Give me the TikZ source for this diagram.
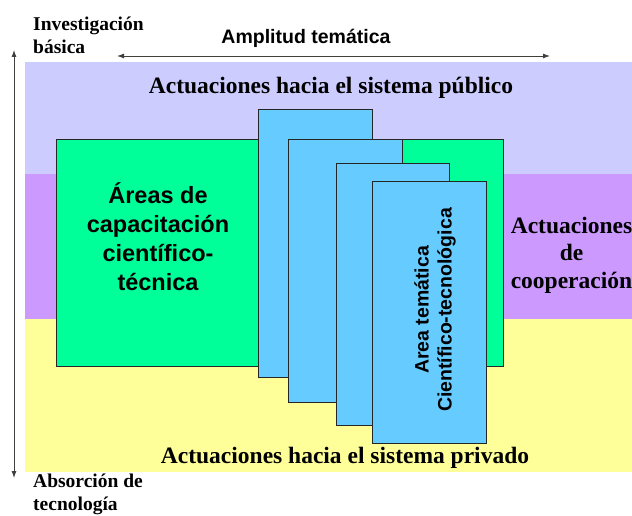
\documentclass[tikz,border=0pt]{standalone}
\usepackage{fontspec}
\setmainfont{Liberation Serif}
\newfontfamily\arialf{Liberation Sans}
\usetikzlibrary{arrows.meta}
\definecolor{bandtop}{HTML}{CCCCFF}
\definecolor{bandmid}{HTML}{CC99FF}
\definecolor{bandbot}{HTML}{FFFF99}
\definecolor{greenbox}{HTML}{00FF99}
\definecolor{bluebox}{HTML}{66CCFF}
\definecolor{arrowgray}{HTML}{404040}
\tikzset{
  band/.style={draw=none, inner sep=0pt, anchor=north west},
  panel/.style={draw=black!85, line width=0.9pt, inner sep=0pt, anchor=north west},
  serifbig/.style={font=\bfseries\fontsize{23.5}{27.5}\selectfont, align=center, inner sep=0pt},
  serifsmall/.style={font=\bfseries\fontsize{19.5}{23}\selectfont, align=left, inner sep=0pt},
  sansbig/.style={font=\arialf\bfseries\fontsize{23.5}{29}\selectfont, align=center, inner sep=0pt},
  sanssmall/.style={font=\arialf\bfseries\fontsize{19.5}{23}\selectfont, align=center, inner sep=0pt},
  axis/.style={draw=arrowgray, line width=0.9pt, {Latex[length=7pt,width=5pt]}-{Latex[length=7pt,width=5pt]}},
}
\begin{document}
\begin{tikzpicture}[x=1pt,y=-1pt]
\useasboundingbox (0,0) rectangle (632,516);
% bands
\node[band, fill=bandtop, minimum width=607pt, minimum height=112pt] (top) at (25,62) {};
\node[band, fill=bandmid, minimum width=607pt, minimum height=145pt] (mid) at (25,174) {};
\node[band, fill=bandbot, minimum width=607pt, minimum height=153pt] (bot) at (25,319) {};
% green box
\node[panel, fill=greenbox, minimum width=447pt, minimum height=227pt] (green) at (56,139) {};
% blue boxes
\node[panel, fill=bluebox, minimum width=114pt, minimum height=268pt] (b1) at (258,109) {};
\node[panel, fill=bluebox, minimum width=114pt, minimum height=263pt] (b2) at (288,139) {};
\node[panel, fill=bluebox, minimum width=113pt, minimum height=262pt] (b3) at (336,163) {};
\node[panel, fill=bluebox, minimum width=114pt, minimum height=262pt] (b4) at (372,181) {};
% texts
\node[serifbig, anchor=base] (pub) at (331,94) {Actuaciones hacia el sistema público};
\node[serifbig, anchor=base] (priv) at (345,463) {Actuaciones hacia el sistema privado};
\node[serifbig, anchor=base] (coop) at (571.5,288) {Actuaciones\\de\\cooperación};
\node[sansbig, anchor=base] (areas) at (158,290) {Áreas de\\capacitación\\científico-\\técnica};
\node[sanssmall, rotate=90] (area) at (435,310) {Area temática\\Científico-tecnológica};
\node[sanssmall, anchor=base] (ampl) at (306,44) {Amplitud temática};
\node[serifsmall, anchor=base west] (inv) at (33,54) {Investigación\\básica};
\node[serifsmall, anchor=base west] (abs) at (33,510) {Absorción de\\tecnología};
% arrows
\coordinate (vtop) at (14,50);
\coordinate (vbot) at (14,478);
\coordinate (hl) at (117,56);
\coordinate (hr) at (550,56);
\draw[axis] (vtop) -- (vbot);
\draw[axis] (hl) -- (hr);
\end{tikzpicture}
\end{document}
